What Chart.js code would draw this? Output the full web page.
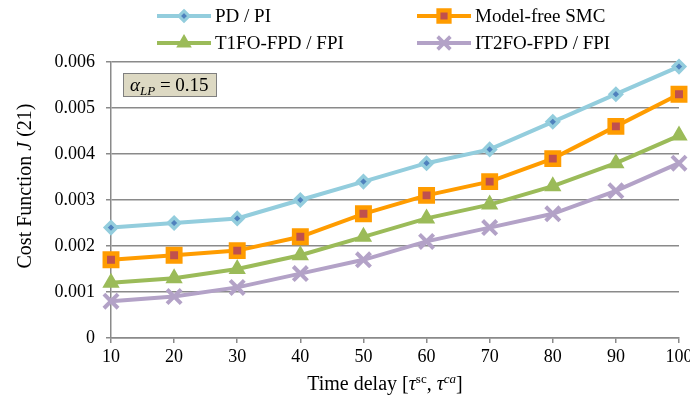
<!DOCTYPE html>
<html>
<head>
<meta charset="utf-8">
<script src="https://cdn.jsdelivr.net/npm/chart.js@4.4.1/dist/chart.umd.min.js"></script>
<style>
  html, body { margin: 0; padding: 0; background: #fff; overflow: hidden; }
  /* slightly wider than the window so the "100" label is cut at the edge like the original */
  #wrap { width: 693px; height: 396px; position: relative; }
</style>
</head>
<body>
<div id="wrap"><canvas id="costChart"></canvas></div>
<script>
// Data (cost J vs. time delay)
const delays = [10, 20, 30, 40, 50, 60, 70, 80, 90, 100];
const pdPi      = [0.0024, 0.0025, 0.0026, 0.0030, 0.0034, 0.0038, 0.0041, 0.0047, 0.0053, 0.0059];
const smc       = [0.0017, 0.0018, 0.0019, 0.0022, 0.0027, 0.0031, 0.0034, 0.0039, 0.0046, 0.0053];
const t1fo      = [0.0012, 0.0013, 0.0015, 0.0018, 0.0022, 0.0026, 0.0029, 0.0033, 0.0038, 0.0044];
const it2fo     = [0.0008, 0.0009, 0.0011, 0.0014, 0.0017, 0.0021, 0.0024, 0.0027, 0.0032, 0.0038];
const seriesNames = ['PD / PI', 'Model-free SMC', 'T1FO-FPD / FPI', 'IT2FO-FPD / FPI'];
const yTicks = [0, 0.001, 0.002, 0.003, 0.004, 0.005, 0.006];

const SERIF = "'Liberation Serif', 'Times New Roman', serif";
const GRID = '#8a8a8a';

// style per series: line colour, marker fill/border
const STYLES = [
  { line: '#93CDDD', point: 'rectRot', radius: 5.6, fill: '#4F81BD', border: '#93CDDD', bw: 3.5 },
  { line: '#FF9C00', point: 'rect', radius: 8.8, fill: '#C0504D', border: '#FF9C00', bw: 4.5 },
  { line: '#9BBB59', point: 'triangle', radius: 8, fill: '#9BBB59', border: '#9BBB59', bw: 2 },
  { line: '#B3A2C7', point: 'crossRot', radius: 10, fill: '#B3A2C7', border: '#B3A2C7', bw: 4 }
];

const allSeries = [pdPi, smc, t1fo, it2fo];

const datasets = allSeries.map((vals, i) => ({
  label: seriesNames[i],
  data: vals.map((v, k) => ({ x: delays[k], y: v })),
  borderColor: STYLES[i].line,
  borderWidth: 4,
  pointStyle: STYLES[i].point,
  pointRadius: STYLES[i].radius,
  pointBackgroundColor: STYLES[i].fill,
  pointBorderColor: STYLES[i].border,
  pointBorderWidth: STYLES[i].bw,
  tension: 0,
  clip: false
}));

// draw a run of text pieces (italic / superscript / subscript)
function textRuns(ctx, runs, x, y, size, align) {
  const fontOf = r => (r.italic ? 'italic ' : '') + Math.round(size * (r.scale || 1)) + 'px ' + SERIF;
  let total = 0;
  runs.forEach(r => { ctx.font = fontOf(r); total += ctx.measureText(r.text).width; });
  let cx = align === 'center' ? x - total / 2 : x;
  ctx.textAlign = 'left';
  ctx.textBaseline = 'alphabetic';
  runs.forEach(r => {
    ctx.font = fontOf(r);
    ctx.fillText(r.text, cx, y + (r.dy || 0) * size);
    cx += ctx.measureText(r.text).width;
  });
}

// legend marker, same shapes as on the chart but a bit smaller
function drawMarker(ctx, st, x, y, k) {
  const r = st.radius * k;
  ctx.save();
  ctx.fillStyle = st.fill;
  ctx.strokeStyle = st.border;
  ctx.lineWidth = st.bw * k;
  ctx.beginPath();
  if (st.point === 'rectRot') {
    ctx.moveTo(x, y - r); ctx.lineTo(x + r, y); ctx.lineTo(x, y + r); ctx.lineTo(x - r, y); ctx.closePath();
    ctx.fill(); ctx.stroke();
  } else if (st.point === 'rect') {
    const h = r * Math.SQRT1_2;
    ctx.rect(x - h, y - h, 2 * h, 2 * h);
    ctx.fill(); ctx.stroke();
  } else if (st.point === 'triangle') {
    for (let j = 0; j < 3; j++) {
      const a = j * 2 * Math.PI / 3;
      const px = x + Math.sin(a) * r, py = y - Math.cos(a) * r;
      if (j === 0) ctx.moveTo(px, py); else ctx.lineTo(px, py);
    }
    ctx.closePath(); ctx.fill(); ctx.stroke();
  } else {
    const o = r * Math.SQRT1_2;
    ctx.moveTo(x - o, y - o); ctx.lineTo(x + o, y + o);
    ctx.moveTo(x + o, y - o); ctx.lineTo(x - o, y + o);
    ctx.stroke();
  }
  ctx.restore();
}

const extrasPlugin = {
  id: 'extras',
  afterDraw(chart) {
    const ctx = chart.ctx;
    ctx.save();
    ctx.fillStyle = '#000';

    // legend, two columns
    const cols = [157, 417], rows = [16, 43];
    seriesNames.forEach((name, i) => {
      const x0 = cols[i % 2], y0 = rows[Math.floor(i / 2)];
      const st = STYLES[i];
      ctx.strokeStyle = st.line;
      ctx.lineWidth = 4;
      ctx.beginPath(); ctx.moveTo(x0, y0); ctx.lineTo(x0 + 54, y0); ctx.stroke();
      drawMarker(ctx, st, x0 + 27, y0, 0.9);
      ctx.fillStyle = '#000';
      ctx.font = '19px ' + SERIF;
      ctx.textAlign = 'left';
      ctx.textBaseline = 'middle';
      ctx.fillText(name, x0 + 58, y0 + 1);
    });

    // alpha_LP annotation box
    ctx.fillStyle = '#DDD9C3';
    ctx.fillRect(123, 73, 94, 24);
    ctx.strokeStyle = '#7f7f7f';
    ctx.lineWidth = 1;
    ctx.strokeRect(123.5, 73.5, 93, 23);
    ctx.fillStyle = '#000';
    textRuns(ctx, [
      { text: 'α', italic: true },
      { text: 'LP', italic: true, scale: 0.7, dy: 0.2 },
      { text: ' = 0.15' }
    ], 130, 91, 19, 'left');

    // x axis title
    textRuns(ctx, [
      { text: 'Time delay [' },
      { text: 'τ', italic: true },
      { text: 'sc', scale: 0.65, dy: -0.35 },
      { text: ', ' },
      { text: 'τ', italic: true },
      { text: 'ca', italic: true, scale: 0.65, dy: -0.35 },
      { text: ']' }
    ], 385, 390, 20, 'center');

    // y axis title, rotated
    ctx.translate(31, 186);
    ctx.rotate(-Math.PI / 2);
    textRuns(ctx, [
      { text: 'Cost Function ' },
      { text: 'J', italic: true },
      { text: ' (21)' }
    ], 0, 0, 20, 'center');
    ctx.restore();
  }
};

new Chart(document.getElementById('costChart'), {
  type: 'line',
  data: { datasets },
  options: {
    responsive: true,
    maintainAspectRatio: false,
    animation: false,
    layout: { padding: { top: 62, right: 4, left: 0, bottom: 0 } },
    plugins: { legend: { display: false }, tooltip: { enabled: false } },
    scales: {
      x: {
        type: 'linear',
        min: 10,
        max: 100,
        afterBuildTicks: s => { s.ticks = delays.map(v => ({ value: v })); },
        ticks: { color: '#000', font: { family: SERIF, size: 18 }, padding: 3, maxRotation: 0 },
        grid: { drawOnChartArea: false, drawTicks: true, tickLength: 5, color: GRID, lineWidth: 1.5 },
        border: { color: GRID, width: 1.5 },
        afterFit: s => { s.height = 58; s.paddingLeft = 0; s.paddingRight = 0; }
      },
      y: {
        min: 0,
        max: 0.006,
        afterBuildTicks: s => { s.ticks = yTicks.map(v => ({ value: v })); },
        ticks: {
          color: '#000',
          font: { family: SERIF, size: 18 },
          padding: 11,
          callback: v => (v === 0 ? '0' : v.toFixed(3))
        },
        grid: { color: GRID, lineWidth: 1.5, drawTicks: true, tickLength: 5 },
        border: { color: GRID, width: 1.5 },
        afterFit: s => { s.width = 111; s.paddingTop = 0; s.paddingBottom = 0; }
      }
    }
  },
  plugins: [extrasPlugin]
});
</script>
</body>
</html>
